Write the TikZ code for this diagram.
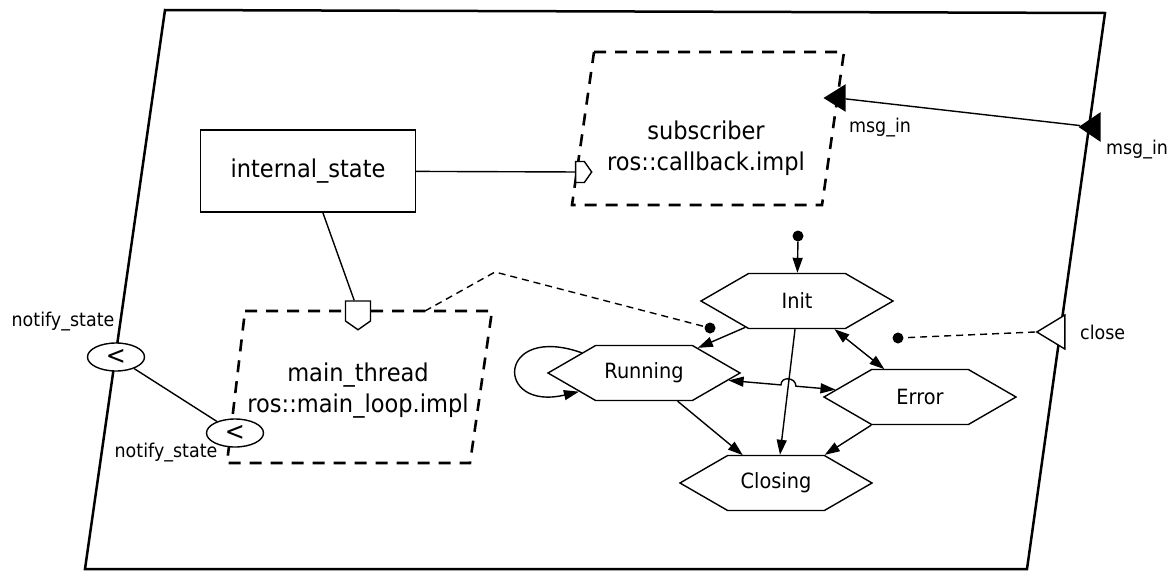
\documentclass[tikz,border=0pt]{standalone}
\usepackage{fontspec}
\setmainfont[FakeStretch=0.92]{DejaVu Sans}
\usetikzlibrary{shapes.geometric,shapes.symbols,arrows.meta,calc}

\begin{document}
\begin{tikzpicture}[x=1pt,y=-1pt,
  >={Triangle[length=15pt,width=10pt]},
  conn/.style={line width=1.4pt},
  thindash/.style={line width=1.4pt,dash pattern=on 7pt off 5pt},
  compbox/.style={line width=2.6pt,dash pattern=on 12pt off 9pt},
  statehex/.style={draw,line width=1.4pt,shape=signal,signal to=west and east,signal from=nowhere,
    signal pointer angle=60,minimum width=192pt,minimum height=55pt,inner sep=0pt,
    font=\fontsize{21}{24}\selectfont},
  big/.style={font=\fontsize{24.5}{31}\selectfont,align=center},
  lbl/.style={font=\fontsize{19}{22}\selectfont,inner sep=0pt},
  dot/.style={circle,fill,inner sep=0pt,minimum size=11pt},
  inport/.style={draw,conn,fill=white,shape=signal,signal from=nowhere,inner sep=0pt,signal pointer angle=110},
  msgport/.style={draw,conn,isosceles triangle,isosceles triangle stretches,rotate=180,inner sep=0pt,anchor=apex},
  notify/.style={draw,conn,fill=white,ellipse,minimum width=57pt,minimum height=28pt,inner sep=0pt,
    font=\fontsize{26}{26}\selectfont}]
\useasboundingbox (0,0) rectangle (1170,573);

\draw[line width=2.5pt] (165,10) -- (1105,13) -- (1027,569) -- (85,569) -- cycle;
\draw[compbox] (594,52) -- (844,52) -- (822,205) -- (572,205) -- cycle;
\draw[compbox] (245,311) -- (492,311) -- (470,463) -- (227,463) -- cycle;

\node[draw,conn,minimum width=215pt,minimum height=82pt,big] (istate) at (308,171) {internal\_state};
\node[big] (subtxt) at (706,148) {subscriber\\ros::callback.impl};
\node[big] (mtxt) at (358,391) {main\_thread\\ros::main\_loop.impl};

\node[inport,signal to=east,minimum width=16pt,minimum height=21pt] (sin) at (580,172) {};
\node[inport,signal to=south,minimum width=25pt,minimum height=20pt] (min) at (358,311) {};
\draw[conn] (istate) -- (sin);
\draw[conn] (istate) -- (min);

\node[msgport,fill,minimum width=25pt,minimum height=20pt] (subin) at (823,98) {};
\node[msgport,fill,minimum width=27pt,minimum height=20pt] (outin) at (1078,127) {};
\draw[conn] (outin) -- (subin);
\node[lbl] (subinlbl) at (880,128) {msg\_in};
\node[lbl] (outinlbl) at (1137,150) {msg\_in};

\node[msgport,fill=white,minimum width=34pt,minimum height=28pt] (closein) at (1035,332) {};
\node[lbl,anchor=west] (closelbl) at (1080,332) {close};

\node[notify] (nout) at (116,357) {<};
\node[notify] (nin) at (235,433) {<};
\draw[conn] (nout) -- (nin);
\node[lbl] (noutlbl) at (63,322) {notify\_state};
\node[lbl] (ninlbl) at (166,453) {notify\_state};

\node[statehex] (init) at (797,301) {Init};
\node[statehex] (run) at (644,373) {Running};
\node[statehex] (err) at (920,397) {Error};
\node[statehex] (clos) at (776,483) {Closing};

\node[dot] (initdot) at (798,236) {};
\node[dot] (mdot) at (710,328) {};
\node[dot] (cdot) at (898,338) {};

\coordinate (mlink) at (425,311);
\coordinate (mbend) at (495,272);
\draw[thindash] (mlink) -- (mbend) -- (mdot);
\draw[thindash] (closein.apex) -- (cdot);

\draw[conn,->] (initdot) -- (init);
\draw[conn,->] (init.207) -- (run.25);
\draw[conn,<->] (init.323) -- (err.142);
\draw[conn,->] (init.266) -- (clos.82);
\draw[conn,->] (run.320) -- (clos.140);
\draw[conn,->] (err.210) -- (clos.30);
\draw[conn,->] (run.162) .. controls +(-85,-30) and +(-85,20) .. (run.196);
\draw[conn,<->] (run.355) -- ($(run.355)!0.49!(err.175)$)
  .. controls +(0,-9) and +(0,-9) .. ($(run.355)!0.63!(err.175)$) -- (err.175);
\end{tikzpicture}
\end{document}
